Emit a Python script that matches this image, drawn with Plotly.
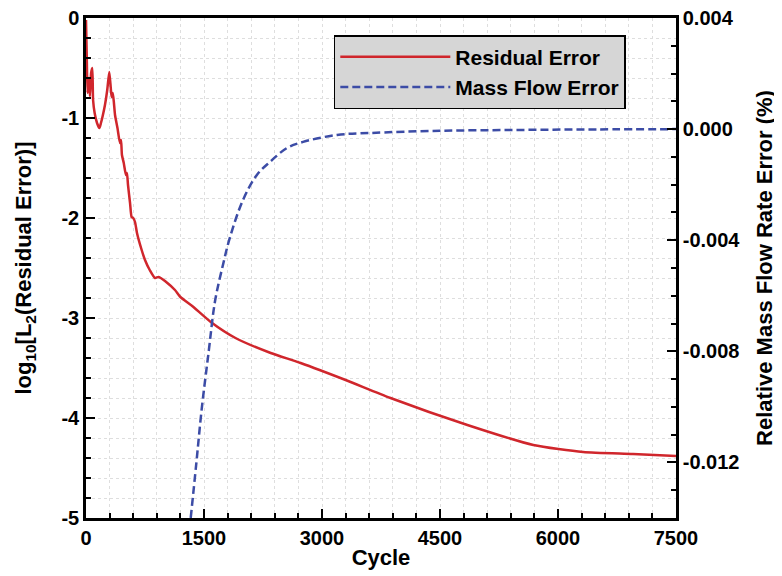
import plotly.graph_objects as go

# Residual error history, log10 of L2 norm (left axis)
res_cycle = [0, 10, 20, 35, 50, 65, 80, 90, 110, 140, 170, 190, 212, 241, 270, 296,
             315, 326, 340, 355, 369, 400, 432, 445, 457, 480, 508, 520, 534, 560,
             580, 600, 623, 648, 700, 750, 810, 877, 920, 950, 1004, 1131, 1200,
             1350, 1586, 1900, 2348, 2728, 3300, 3871, 4848, 5686, 6320, 6954, 7500]
res_log = [-0.02, -0.4, -0.75, -0.6, -0.78, -0.55, -0.5, -0.82, -0.95, -1.05, -1.10,
           -1.05, -0.98, -0.87, -0.72, -0.54, -0.7, -0.79, -0.75, -0.85, -0.97, -1.1,
           -1.25, -1.22, -1.37, -1.45, -1.57, -1.55, -1.67, -1.85, -1.99, -2.0, -2.04,
           -2.15, -2.3, -2.42, -2.52, -2.60, -2.59, -2.60, -2.63, -2.72, -2.79, -2.88,
           -3.04, -3.2, -3.35, -3.45, -3.62, -3.80, -4.07, -4.27, -4.34, -4.36, -4.38]

# Relative mass flow rate error in % (right axis)
mf_cycle = [1331, 1400, 1470, 1560, 1640, 1740, 1830, 1996, 2172, 2339, 2555, 2760,
            3190, 3610, 4500, 5500, 6500, 7500]
mf_err = [-0.0140, -0.0121, -0.0101, -0.0080, -0.0062, -0.0049, -0.0039, -0.00255,
          -0.00165, -0.00118, -0.00068, -0.00046, -0.00021, -0.00014, -0.00006,
          -0.00003, -0.00001, 0.0]

x_ticks = [0, 1500, 3000, 4500, 6000, 7500]
y_ticks = [0, -1, -2, -3, -4, -5]
y_labels = ["0", "-1", "-2", "-3", "-4", "-5"]
y2_ticks = [0.004, 0.0, -0.004, -0.008, -0.012]
y2_labels = ["0.004", "0.000", "-0.004", "-0.008", "-0.012"]

FONT = "Liberation Sans"
tick_font = dict(family=FONT, size=20, color="black", weight="bold")
title_font = dict(family=FONT, size=22, color="black", weight="bold")
grid = dict(showgrid=True, gridcolor="#dedede", griddash="dot", gridwidth=1)

fig = go.Figure()

fig.add_trace(go.Scatter(
    x=res_cycle, y=res_log,
    mode="lines",
    name="Residual Error",
    line=dict(color="#d0262c", width=2.5, shape="spline", smoothing=0.6)
))

fig.add_trace(go.Scatter(
    x=mf_cycle, y=mf_err,
    mode="lines",
    name="Mass Flow Error",
    yaxis="y2",
    line=dict(color="#3c4ca6", width=2.5, dash="8px,4px", shape="spline")
))

# the page body has an 8px margin, so the figure is sized/offset to compensate
fig.update_layout(
    width=774, height=568,
    margin=dict(l=78, r=106, t=10, b=58, autoexpand=False),
    plot_bgcolor="white",
    paper_bgcolor="white",
    showlegend=True,
    legend=dict(
        x=0.42, y=0.966, xanchor="left", yanchor="top",
        bgcolor="#d6d6d6", bordercolor="black", borderwidth=1.5,
        font=dict(family=FONT, size=21, color="black", weight="bold"),
        itemwidth=110, tracegroupgap=0
    ),
    xaxis=dict(
        range=[0, 7500], tickvals=x_ticks, automargin=False,
        ticks="inside", ticklen=9, tickwidth=2, tickcolor="black",
        showline=True, linewidth=2.5, linecolor="black", mirror=True,
        tickfont=tick_font, ticklabeloverflow="allow",
        title=dict(text="Cycle", font=title_font, standoff=2),
        minor=dict(dtick=300, ticks="inside", ticklen=5, tickwidth=1.5,
                   tickcolor="black", showgrid=True, gridcolor="#dedede",
                   griddash="dot"),
        zeroline=False, **grid
    ),
    yaxis=dict(
        range=[-5, 0], tickvals=y_ticks, ticktext=y_labels, automargin=False,
        ticks="inside", ticklen=9, tickwidth=2, tickcolor="black",
        showline=True, linewidth=2.5, linecolor="black", mirror=True,
        tickfont=tick_font, ticklabeloverflow="allow",
        title=dict(text="log<sub>10</sub>[L<sub>2</sub>(Residual Error)]",
                   font=title_font, standoff=24),
        minor=dict(dtick=0.2, ticks="inside", ticklen=5, tickwidth=1.5,
                   tickcolor="black", showgrid=True, gridcolor="#dedede",
                   griddash="dot"),
        zeroline=False, **grid
    ),
    yaxis2=dict(
        overlaying="y", side="right", automargin=False,
        range=[-0.014, 0.004], tickvals=y2_ticks, ticktext=y2_labels,
        ticks="inside", ticklen=9, tickwidth=2, tickcolor="black",
        showline=True, linewidth=2.5, linecolor="black",
        tickfont=tick_font, ticklabeloverflow="allow",
        title=dict(text="Relative Mass Flow Rate Error (%)",
                   font=title_font, standoff=18),
        minor=dict(dtick=0.001, ticks="inside", ticklen=5, tickwidth=1.5,
                   tickcolor="black"),
        showgrid=False, zeroline=False
    )
)

fig.write_html("out.html")
